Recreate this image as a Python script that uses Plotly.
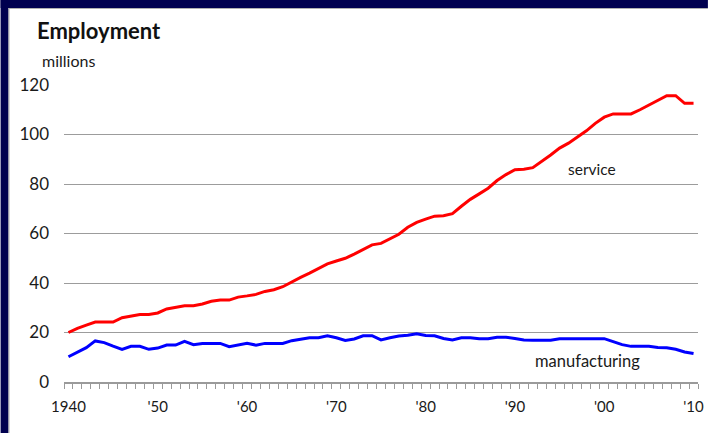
import plotly.graph_objects as go

years = list(range(1940, 2011))

service = [
    20.0, 21.7, 23.0, 24.2, 24.2, 24.2, 26.0, 26.7, 27.3, 27.3,   # 1940-49
    27.9, 29.5, 30.2, 30.8, 30.8, 31.5, 32.6, 33.1, 33.1, 34.3,   # 1950-59
    34.8, 35.4, 36.6, 37.3, 38.5, 40.5, 42.3, 44.0, 45.8, 47.7,   # 1960-69
    48.9, 50.0, 51.7, 53.6, 55.4, 56.0, 57.7, 59.7, 62.5, 64.5,   # 1970-79
    65.8, 67.0, 67.2, 68.0, 71.0, 73.8, 76.0, 78.3, 81.4, 83.8,   # 1980-89
    85.8, 86.0, 86.6, 89.0, 91.7, 94.5, 96.5, 99.0, 101.5, 104.5, # 1990-99
    107.0, 108.3, 108.3, 108.3, 110.0, 111.8, 113.7, 115.7, 115.7, 112.6,  # 2000-09
    112.6,                                                         # 2010
]

manufacturing = [
    10.2, 12.0, 13.9, 16.6, 15.9, 14.5, 13.2, 14.4, 14.4, 13.2,   # 1940-49
    13.7, 14.9, 14.9, 16.4, 15.1, 15.6, 15.6, 15.6, 14.3, 14.9,   # 1950-59
    15.6, 14.9, 15.6, 15.6, 15.6, 16.7, 17.4, 17.9, 17.9, 18.7,   # 1960-69
    17.9, 16.8, 17.4, 18.7, 18.7, 17.0, 17.9, 18.6, 18.9, 19.5,   # 1970-79
    18.8, 18.7, 17.6, 17.0, 17.9, 17.9, 17.5, 17.5, 18.1, 18.1,   # 1980-89
    17.6, 17.0, 16.9, 16.9, 16.9, 17.5, 17.5, 17.5, 17.5, 17.5,   # 1990-99
    17.5, 16.3, 15.1, 14.4, 14.4, 14.4, 13.9, 13.8, 13.2, 12.1,   # 2000-09
    11.5,                                                          # 2010
]

xtick_vals = [1940, 1950, 1960, 1970, 1980, 1990, 2000, 2010]
xtick_text = ["1940", "'50", "'60", "'70", "'80", "'90", "'00", "'10"]
ytick_vals = [0, 20, 40, 60, 80, 100, 120]

FONT = "Lato, 'Open Sans', sans-serif"

fig = go.Figure()
fig.add_trace(go.Scatter(x=years, y=service, mode="lines",
                         line=dict(color="#ff0000", width=3), name="service"))
fig.add_trace(go.Scatter(x=years, y=manufacturing, mode="lines",
                         line=dict(color="#0000ff", width=3), name="manufacturing"))

L, R, T, B = 64, 10, 85, 51
W, H = 714, 433
pw, ph = W - L - R, H - T - B

def px(p):
    return (p - L) / pw

def py(q):
    return (H - B - q) / ph

fig.update_layout(
    width=W, height=H,
    margin=dict(l=L, r=R, t=T, b=B),
    paper_bgcolor="white", plot_bgcolor="white",
    showlegend=False,
    font=dict(family=FONT, color="#1a1a1a"),
    xaxis=dict(
        range=[1939.5, 2010.5],
        tickmode="array", tickvals=xtick_vals, ticktext=xtick_text,
        ticks="", showgrid=False, zeroline=False,
        showline=True, linecolor="#9a9a9a", linewidth=1.5,
        tickfont=dict(size=15, family=FONT, color="#1a1a1a"),
        ticklabelstandoff=10,
        minor=dict(tick0=1939.5, dtick=1, ticks="outside", ticklen=5,
                   tickcolor="#9a9a9a", tickwidth=1, showgrid=False),
    ),
    yaxis=dict(
        range=[0, 120],
        tickmode="array", tickvals=ytick_vals,
        ticks="", showgrid=True, gridcolor="#9c9c9c", gridwidth=1.2,
        zeroline=False, showline=False,
        tickfont=dict(size=17, family=FONT, color="#1a1a1a"),
        ticklabelstandoff=14,
    ),
    annotations=[
        dict(text="<b>Employment</b>", x=px(35), y=py(30), xref="paper", yref="paper",
             xanchor="left", yanchor="middle", showarrow=False,
             font=dict(size=22, family=FONT, color="#111111")),
        dict(text="millions", x=px(40), y=py(61), xref="paper", yref="paper",
             xanchor="left", yanchor="middle", showarrow=False,
             font=dict(size=16, family=FONT, color="#1a1a1a")),
        dict(text="service", x=1998.6, y=86.1, xref="x", yref="y",
             xanchor="center", yanchor="middle", showarrow=False,
             font=dict(size=15.5, family=FONT, color="#1a1a1a")),
        dict(text="manufacturing", x=1998.1, y=8.5, xref="x", yref="y",
             xanchor="center", yanchor="middle", showarrow=False,
             font=dict(size=16.5, family=FONT, color="#1a1a1a")),
    ],
    shapes=[
        dict(type="rect", xref="paper", yref="paper",
             x0=px(0), x1=px(W), y0=py(0), y1=py(8),
             fillcolor="#00004f", line=dict(width=0)),
        dict(type="rect", xref="paper", yref="paper",
             x0=px(0), x1=px(8), y0=py(0), y1=py(H),
             fillcolor="#00004f", line=dict(width=0)),
        dict(type="line", xref="paper", yref="paper",
             x0=px(8), x1=px(W), y0=py(8.5), y1=py(8.5),
             line=dict(color="#b0b0b0", width=1)),
        dict(type="line", xref="paper", yref="paper",
             x0=px(8.5), x1=px(8.5), y0=py(8), y1=py(H),
             line=dict(color="#b0b0b0", width=1)),
    ],
)

fig.write_html(
    "out.html",
    config={"displayModeBar": False},
    post_script="document.body.style.margin='0';document.body.style.overflow='hidden';",
)
